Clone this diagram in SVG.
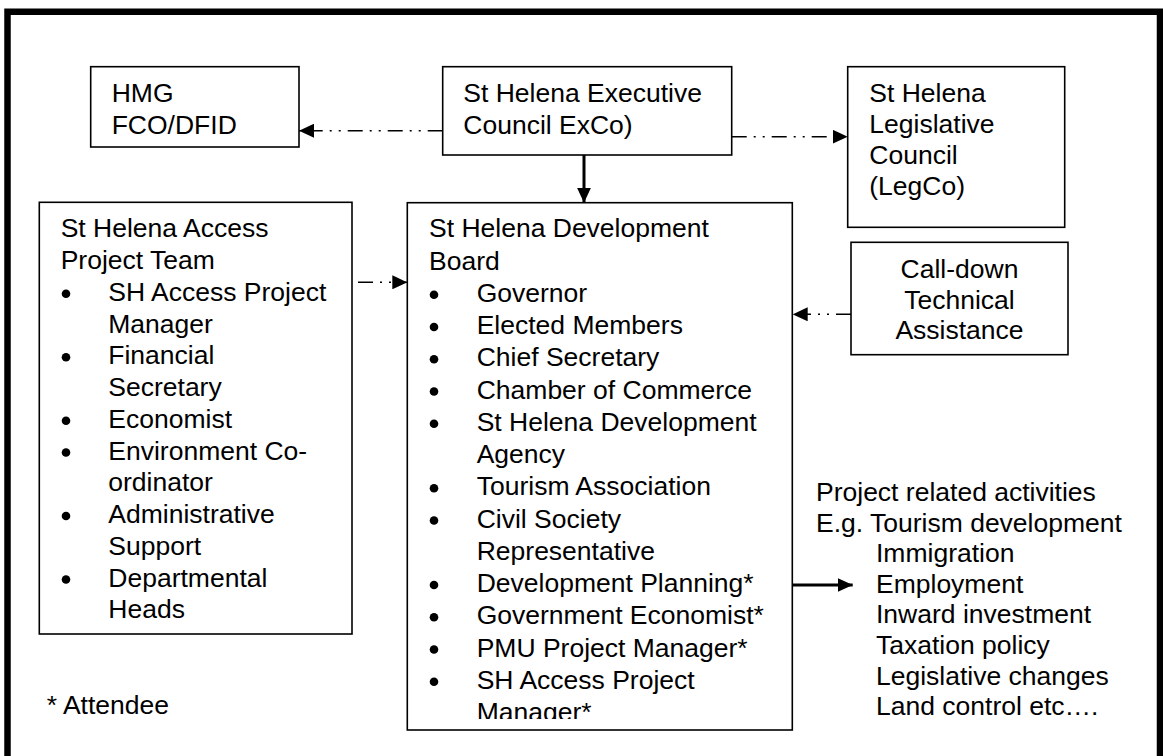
<svg xmlns="http://www.w3.org/2000/svg" width="1163" height="756" viewBox="0 0 1163 756">
<style>
text{font-family:"Liberation Sans",Arial,sans-serif;font-size:26.5px;fill:#000}
.box{fill:#fff;stroke:#000;stroke-width:1.6}
.dd{fill:none;stroke:#000;stroke-width:1.6;stroke-dasharray:15 7 2 7 2 7}
.solid{fill:none;stroke:#000;stroke-width:3}
.blt{fill:#000}
.mid{text-anchor:middle}
</style>
<defs>
<marker id="ah" markerUnits="userSpaceOnUse" markerWidth="15" markerHeight="14" refX="15" refY="7" orient="auto" viewBox="0 0 15 14">
<path d="M0,0 L15,7 L0,14 z" fill="#000"/>
</marker>
<clipPath id="devclip"><rect x="407" y="202" width="386" height="517"/></clipPath>
</defs>
<path id="frame" d="M7.5,760 V11.7 H1160 V760" fill="none" stroke="#000" stroke-width="6.5" stroke-linejoin="miter"/>

<g id="hmg">
<rect class="box" x="90.7" y="66.7" width="208.3" height="80.3"/>
<text x="111.7" y="102.3">HMG</text>
<text x="111.7" y="134">FCO/DFID</text>
</g>

<g id="exco">
<rect class="box" x="442.7" y="66.7" width="289" height="88.3"/>
<text x="463.3" y="102.3">St Helena Executive</text>
<text x="463.3" y="134">Council ExCo)</text>
</g>

<g id="legco">
<rect class="box" x="847.7" y="66.7" width="217" height="160.6"/>
<text x="869.3" y="102.3">St Helena</text>
<text x="869.3" y="133.3">Legislative</text>
<text x="869.3" y="164.3">Council</text>
<text x="869.3" y="195.3">(LegCo)</text>
</g>

<g id="calldown">
<rect class="box" x="851" y="242.3" width="217" height="112.4"/>
<text class="mid" x="959.5" y="278.3">Call-down</text>
<text class="mid" x="959.5" y="309.3">Technical</text>
<text class="mid" x="959.5" y="339.3">Assistance</text>
</g>

<g id="access">
<rect class="box" x="39.3" y="202.3" width="312.7" height="431.7"/>
<text x="60.7" y="237.3">St Helena Access</text>
<text x="60.7" y="269">Project Team</text>
<circle class="blt" cx="66" cy="293.8" r="4.3"/>
<text x="108.3" y="300.8">SH Access Project</text>
<text x="108.3" y="332.5">Manager</text>
<circle class="blt" cx="66" cy="357.3" r="4.3"/>
<text x="108.3" y="364.3">Financial</text>
<text x="108.3" y="396">Secretary</text>
<circle class="blt" cx="66" cy="420.8" r="4.3"/>
<text x="108.3" y="427.8">Economist</text>
<circle class="blt" cx="66" cy="452.5" r="4.3"/>
<text x="108.3" y="459.5">Environment Co-</text>
<text x="108.3" y="491.3">ordinator</text>
<circle class="blt" cx="66" cy="516" r="4.3"/>
<text x="108.3" y="523">Administrative</text>
<text x="108.3" y="554.8">Support</text>
<circle class="blt" cx="66" cy="579.5" r="4.3"/>
<text x="108.3" y="586.5">Departmental</text>
<text x="108.3" y="618.3">Heads</text>
</g>

<g id="devboard">
<rect class="box" x="407.3" y="202.7" width="385" height="527.3"/>
<g clip-path="url(#devclip)">
<text x="429" y="237.3">St Helena Development</text>
<text x="429" y="269.5">Board</text>
<circle class="blt" cx="434" cy="294.8" r="4.3"/>
<text x="476.7" y="301.8">Governor</text>
<circle class="blt" cx="434" cy="327" r="4.3"/>
<text x="476.7" y="334">Elected Members</text>
<circle class="blt" cx="434" cy="359.3" r="4.3"/>
<text x="476.7" y="366.3">Chief Secretary</text>
<circle class="blt" cx="434" cy="391.5" r="4.3"/>
<text x="476.7" y="398.5">Chamber of Commerce</text>
<circle class="blt" cx="434" cy="423.8" r="4.3"/>
<text x="476.7" y="430.8">St Helena Development</text>
<text x="476.7" y="463">Agency</text>
<circle class="blt" cx="434" cy="488.3" r="4.3"/>
<text x="476.7" y="495.3">Tourism Association</text>
<circle class="blt" cx="434" cy="520.5" r="4.3"/>
<text x="476.7" y="527.5">Civil Society</text>
<text x="476.7" y="559.8">Representative</text>
<circle class="blt" cx="434" cy="585" r="4.3"/>
<text x="476.7" y="592">Development Planning*</text>
<circle class="blt" cx="434" cy="617.3" r="4.3"/>
<text x="476.7" y="624.3">Government Economist*</text>
<circle class="blt" cx="434" cy="649.5" r="4.3"/>
<text x="476.7" y="656.5">PMU Project Manager*</text>
<circle class="blt" cx="434" cy="681.8" r="4.3"/>
<text x="476.7" y="688.8">SH Access Project</text>
<text x="476.7" y="721">Manager*</text>
</g>
</g>

<g id="activities">
<text x="816" y="501">Project related activities</text>
<text x="816" y="531.6">E.g. Tourism development</text>
<text x="876" y="562.2">Immigration</text>
<text x="876" y="592.8">Employment</text>
<text x="876" y="623.4">Inward investment</text>
<text x="876" y="654">Taxation policy</text>
<text x="876" y="684.6">Legislative changes</text>
<text x="876" y="715.2">Land control etc….</text>
</g>

<g id="attendee">
<text x="46.7" y="714">* Attendee</text>
</g>

<g id="connectors">
<path class="dd" d="M442.7,130.7 H299" marker-end="url(#ah)"/>
<path class="dd" d="M731.7,136.7 H847.7" marker-end="url(#ah)"/>
<path class="dd" d="M358,282.3 H407.3" marker-end="url(#ah)"/>
<path class="dd" d="M851,314.3 H792.7" marker-end="url(#ah)"/>
<path class="solid" d="M584,155 V202.7" marker-end="url(#ah)"/>
<path class="solid" d="M792.3,585 H852.7" marker-end="url(#ah)"/>
</g>
</svg>
